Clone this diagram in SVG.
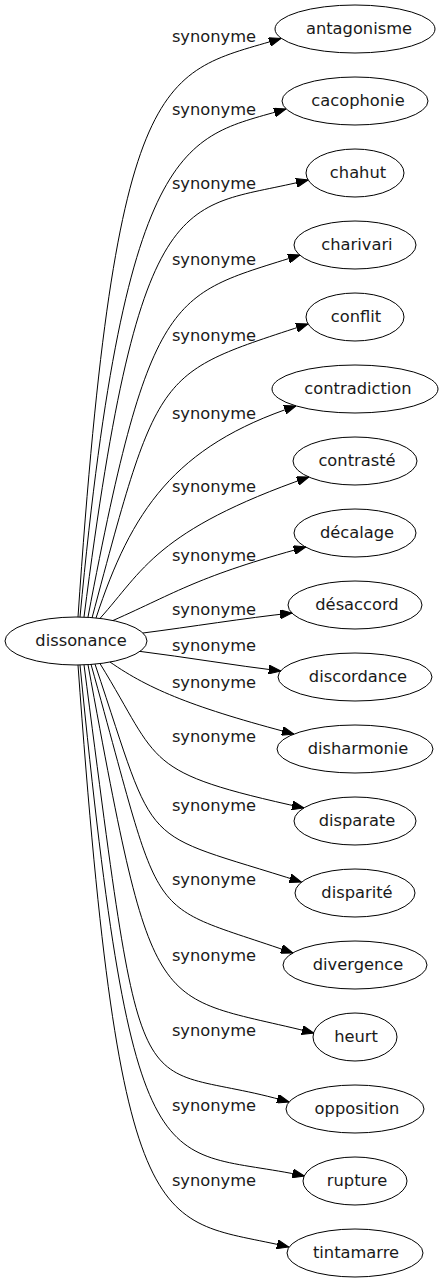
<svg xmlns="http://www.w3.org/2000/svg" width="443" height="1283" viewBox="0 0 443 1283">
<style>
.n ellipse{fill:none;stroke:#000;stroke-width:1}
text{font-family:"DejaVu Sans",Verdana,sans-serif;font-size:16.3px;fill:#1a1a1a;text-anchor:middle}
#edges path{fill:none;stroke:#000;stroke-width:1;marker-end:url(#ah)}
</style>
<defs>
<marker id="ah" viewBox="0 0 12 9" refX="12" refY="4.5" markerWidth="12" markerHeight="9" markerUnits="userSpaceOnUse" orient="auto">
<path d="M0,0 L12,4.5 L0,9 Z" fill="#000" stroke="#000" stroke-width="1"/>
</marker>
</defs>
<rect width="443" height="1283" fill="#fff"/>
<g id="edges">
<path d="M78,617 C115.9,59.2 161.8,74.3 281,38.5"/>
<path d="M80,617 C126.1,126.3 187.9,138.4 286,109"/>
<path d="M84,617 C141.1,170.9 182.6,211.4 308,180"/>
<path d="M88,617 C151.2,284.3 172.8,295.7 300,255"/>
<path d="M92,618 C159.2,365.4 156.8,373.9 308,324"/>
<path d="M96,618 C131.3,511.1 174,446.3 296,406"/>
<path d="M100,618.4 C142.7,571 155.7,530.6 308.8,477"/>
<path d="M113,620.5 C177.2,592.1 197.9,576.1 305.7,547"/>
<path d="M143,633 C190,627 245,618 292.1,613"/>
<path d="M140,651.4 C185,657 235,665.5 280.7,671"/>
<path d="M110,662 C150,690 195,708 293.8,734"/>
<path d="M100,663.6 C162,764.2 140.3,772 304,808"/>
<path d="M95,664.1 C159.4,856.1 134.8,828.7 301.4,882"/>
<path d="M91,664.3 C166.6,934.8 139.8,899.4 292.9,953"/>
<path d="M88,664.7 C154.9,1028.5 151.1,992.3 313.9,1033"/>
<path d="M84,664.8 C146,1141.9 129.7,1055.8 289,1102"/>
<path d="M80,665 C133.6,1206.8 159.6,1144.9 304.4,1176"/>
<path d="M78,665 C120.6,1258.7 157.1,1216 288.9,1247"/>
</g>
<g id="labels">
<text x="214" y="42">synonyme</text>
<text x="214" y="114.5">synonyme</text>
<text x="214" y="189">synonyme</text>
<text x="214" y="265">synonyme</text>
<text x="214" y="341">synonyme</text>
<text x="214" y="418.5">synonyme</text>
<text x="214" y="492">synonyme</text>
<text x="214" y="560.5">synonyme</text>
<text x="214" y="615">synonyme</text>
<text x="214" y="650.5">synonyme</text>
<text x="214" y="688">synonyme</text>
<text x="214" y="742">synonyme</text>
<text x="214" y="810.5">synonyme</text>
<text x="214" y="884.5">synonyme</text>
<text x="214" y="960.5">synonyme</text>
<text x="214" y="1036">synonyme</text>
<text x="214" y="1111">synonyme</text>
<text x="214" y="1185.5">synonyme</text>
</g>
<g id="dissonance" class="n"><ellipse cx="76" cy="641" rx="71" ry="24"/><text x="81" y="646">dissonance</text></g>
<g id="antagonisme" class="n"><ellipse cx="355" cy="29" rx="80" ry="24"/><text x="359" y="34">antagonisme</text></g>
<g id="cacophonie" class="n"><ellipse cx="355" cy="101" rx="73" ry="24"/><text x="358" y="106">cacophonie</text></g>
<g id="chahut" class="n"><ellipse cx="355" cy="173" rx="49" ry="24"/><text x="358" y="178">chahut</text></g>
<g id="charivari" class="n"><ellipse cx="355" cy="245" rx="61" ry="24"/><text x="357" y="250">charivari</text></g>
<g id="conflit" class="n"><ellipse cx="355" cy="317" rx="49" ry="24"/><text x="356" y="322">conflit</text></g>
<g id="contradiction" class="n"><ellipse cx="355" cy="389" rx="83" ry="24"/><text x="358" y="394">contradiction</text></g>
<g id="contraste" class="n"><ellipse cx="355" cy="461" rx="62" ry="24"/><text x="357" y="466">contrasté</text></g>
<g id="decalage" class="n"><ellipse cx="355" cy="533" rx="61" ry="24"/><text x="357" y="538">décalage</text></g>
<g id="desaccord" class="n"><ellipse cx="355" cy="605" rx="67" ry="24"/><text x="357" y="610">désaccord</text></g>
<g id="discordance" class="n"><ellipse cx="355" cy="677" rx="77" ry="24"/><text x="358" y="682">discordance</text></g>
<g id="disharmonie" class="n"><ellipse cx="355" cy="749" rx="78" ry="24"/><text x="358" y="754">disharmonie</text></g>
<g id="disparate" class="n"><ellipse cx="355" cy="821" rx="61" ry="24"/><text x="357" y="826">disparate</text></g>
<g id="disparite" class="n"><ellipse cx="355" cy="893" rx="60" ry="24"/><text x="357" y="898">disparité</text></g>
<g id="divergence" class="n"><ellipse cx="355" cy="965" rx="72" ry="24"/><text x="358" y="970">divergence</text></g>
<g id="heurt" class="n"><ellipse cx="355" cy="1037" rx="42" ry="24"/><text x="356" y="1042">heurt</text></g>
<g id="opposition" class="n"><ellipse cx="355" cy="1109" rx="69" ry="24"/><text x="357" y="1114">opposition</text></g>
<g id="rupture" class="n"><ellipse cx="355" cy="1181" rx="52" ry="24"/><text x="357" y="1186">rupture</text></g>
<g id="tintamarre" class="n"><ellipse cx="355" cy="1253" rx="68" ry="24"/><text x="356" y="1258">tintamarre</text></g>
</svg>
